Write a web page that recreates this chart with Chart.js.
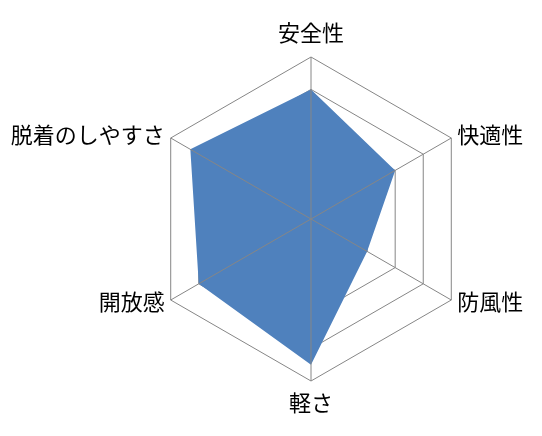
<!DOCTYPE html>
<html>
<head>
<meta charset="utf-8">
<script src="https://cdn.jsdelivr.net/npm/chart.js@4/dist/chart.umd.min.js"></script>
<style>
html,body{margin:0;padding:0;background:#fff;}
#wrap{width:542px;height:436px;position:relative;}
</style>
</head>
<body>
<div id="wrap"><canvas id="c"></canvas></div>
<script>
const categories = ['安全性', '快適性', '防風性', '軽さ', '開放感', '脱着のしやすさ'];
const seriesValues = [4, 3, 2, 4.5, 4, 4.3];
const scaleMin = 0;
const scaleMax = 5;
const scaleStep = 1;

const GRID = '#868686';
const FILL = '#4F81BD';
const LABEL_FONT = '22px "Noto Sans CJK JP", "Noto Sans", sans-serif';

// spokes drawn over the filled area, labels placed relative to the outer vertices
const overlay = {
  id: 'overlay',
  afterDatasetsDraw(chart) {
    const s = chart.scales.r;
    const ctx = chart.ctx;
    ctx.save();
    ctx.strokeStyle = GRID;
    ctx.lineWidth = 1;
    for (let i = 0; i < categories.length; i++) {
      const p = s.getPointPosition(i, s.drawingArea);
      ctx.beginPath();
      ctx.moveTo(s.xCenter, s.yCenter);
      ctx.lineTo(p.x, p.y);
      ctx.stroke();
    }
    ctx.restore();
  },
  afterDraw(chart) {
    const s = chart.scales.r;
    const ctx = chart.ctx;
    ctx.save();
    ctx.font = LABEL_FONT;
    ctx.fillStyle = '#000';
    ctx.textBaseline = 'middle';
    for (let i = 0; i < categories.length; i++) {
      const p = s.getPointPosition(i, s.drawingArea);
      const dx = p.x - s.xCenter;
      const dy = p.y - s.yCenter;
      let x = p.x, y = p.y;
      if (Math.abs(dx) < 1) {
        ctx.textAlign = 'center';
        y = dy < 0 ? p.y - 24 : p.y + 22;
      } else if (dx > 0) {
        ctx.textAlign = 'left';
        x = p.x + 6;
        y = dy < 0 ? p.y - 3 : p.y + 2;
      } else {
        ctx.textAlign = 'right';
        x = p.x - 6;
        y = dy < 0 ? p.y - 3 : p.y + 2;
      }
      ctx.fillText(categories[i], x, y);
    }
    ctx.restore();
  }
};

new Chart(document.getElementById('c'), {
  type: 'radar',
  data: {
    labels: categories,
    datasets: [{
      data: seriesValues,
      fill: true,
      backgroundColor: FILL,
      borderColor: FILL,
      borderWidth: 0,
      pointRadius: 0,
      pointHoverRadius: 0
    }]
  },
  options: {
    responsive: true,
    maintainAspectRatio: false,
    animation: false,
    devicePixelRatio: 1,
    layout: { padding: { left: 149, right: 69, top: 57, bottom: 55 } },
    plugins: { legend: { display: false }, tooltip: { enabled: false } },
    elements: { line: { tension: 0 } },
    scales: {
      r: {
        min: scaleMin,
        max: scaleMax,
        ticks: { display: false, stepSize: scaleStep },
        grid: { color: GRID, lineWidth: 1, circular: false },
        angleLines: { display: false },
        pointLabels: { display: false }
      }
    }
  },
  plugins: [overlay]
});
</script>
</body>
</html>
